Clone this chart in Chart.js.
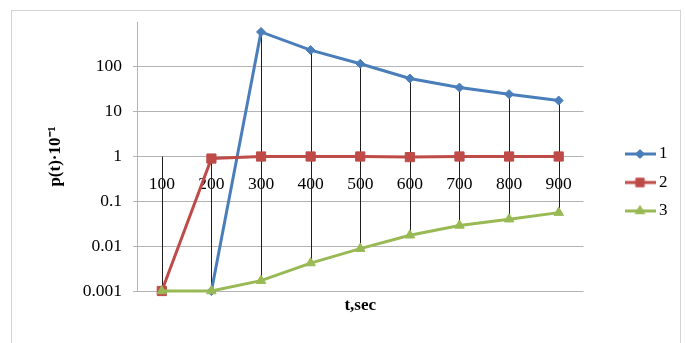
<!DOCTYPE html>
<html>
<head>
<meta charset="utf-8">
<script src="https://cdn.jsdelivr.net/npm/chart.js@4.4.0/dist/chart.umd.min.js"></script>
<style>
  html, body { margin: 0; padding: 0; background: #fff; }
  #wrap { width: 685px; height: 343px; }
</style>
</head>
<body>
<div id="wrap"><canvas id="chart" width="685" height="343"></canvas></div>
<script>
// Data (log scale, p(t)*10^-1 vs t)
const categories = ['100', '200', '300', '400', '500', '600', '700', '800', '900'];
const series1 = [null, 0.001, 600, 236, 117, 55, 34.5, 24.6, 17.7];
const series2 = [0.001, 0.9, 1, 1, 1, 0.97, 1, 1, 1];
const series3 = [0.001, 0.001, 0.0017, 0.0042, 0.0088, 0.0175, 0.029, 0.04, 0.056];
const yTicks = [0.001, 0.01, 0.1, 1, 10, 100, 1000];
const seriesNames = ['1', '2', '3'];

const FONT = "'Liberation Serif', 'Times New Roman', serif";
const BLUE = '#4A7EBB';
const RED = '#BE4B48';
const GREEN = '#98B954';
const GRID = '#b3b3b3';

// Legend icons: line with the marker in the middle
function makeLegendIcon(color, style, radius) {
    const c = document.createElement('canvas');
    c.width = 31;
    c.height = 14;
    const g = c.getContext('2d');
    g.strokeStyle = color;
    g.lineWidth = 3;
    g.beginPath();
    g.moveTo(0, 7);
    g.lineTo(31, 7);
    g.stroke();
    g.fillStyle = color;
    g.strokeStyle = color;
    g.lineWidth = 1;
    Chart.helpers.drawPoint(g, { pointStyle: style, radius: radius, rotation: 0, borderWidth: 1 }, 15.5, 7);
    return c;
}
const legendIcons = [
    makeLegendIcon(BLUE, 'rectRot', 4.5),
    makeLegendIcon(RED, 'rect', 6),
    makeLegendIcon(GREEN, 'triangle', 5.5)
];

// Light grey frame around the whole chart
const frame = {
    id: 'frame',
    beforeDraw(chart) {
        const ctx = chart.ctx;
        ctx.save();
        ctx.fillStyle = '#fff';
        ctx.fillRect(0, 0, chart.width, chart.height);
        ctx.strokeStyle = '#d4d4d4';
        ctx.lineWidth = 1;
        ctx.strokeRect(11.5, 10.5, 669, 345);
        ctx.restore();
    }
};

// Excel-style drop lines: from each point to the category axis (at 1)
const dropLines = {
    id: 'dropLines',
    beforeDatasetsDraw(chart) {
        const { ctx, scales: { x, y } } = chart;
        const axisY = y.getPixelForValue(1);
        ctx.save();
        ctx.strokeStyle = '#1e1e1e';
        ctx.lineWidth = 1;
        categories.forEach((c, i) => {
            const px = chart.data.datasets
                .map(ds => ds.data[i])
                .filter(v => v !== null && v !== undefined)
                .map(v => y.getPixelForValue(v));
            px.push(axisY);
            const xp = Math.round(x.getPixelForValue(i)) + 0.5;
            ctx.beginPath();
            ctx.moveTo(xp, Math.min(...px));
            ctx.lineTo(xp, Math.max(...px));
            ctx.stroke();
        });
        ctx.restore();
    }
};

const defaultLabels = Chart.defaults.plugins.legend.labels.generateLabels;

new Chart(document.getElementById('chart').getContext('2d'), {
    type: 'line',
    data: {
        labels: categories,
        datasets: [{
            label: seriesNames[0],
            data: series1,
            borderColor: BLUE,
            backgroundColor: BLUE,
            borderWidth: 3,
            pointStyle: 'rectRot',
            pointRadius: 4.5,
            pointBorderWidth: 1,
            clip: false,
            order: 3
        }, {
            label: seriesNames[1],
            data: series2,
            borderColor: RED,
            backgroundColor: RED,
            borderWidth: 3,
            pointStyle: 'rect',
            pointRadius: 6.5,
            pointBorderWidth: 1,
            clip: false,
            order: 2
        }, {
            label: seriesNames[2],
            data: series3,
            borderColor: GREEN,
            backgroundColor: GREEN,
            borderWidth: 3,
            pointStyle: 'triangle',
            pointRadius: 5.5,
            pointBorderWidth: 1,
            clip: false,
            order: 1
        }]
    },
    options: {
        responsive: false,
        animation: false,
        layout: { padding: { top: 22, left: 0, right: 7.5, bottom: 0 } },
        plugins: {
            tooltip: { enabled: false },
            legend: {
                position: 'right',
                labels: {
                    usePointStyle: true,
                    pointStyleWidth: 21,
                    padding: 11.5,
                    color: '#000',
                    font: { family: FONT, size: 17 },
                    sort: (a, b) => a.datasetIndex - b.datasetIndex,
                    generateLabels(chart) {
                        return defaultLabels(chart).map(item => {
                            item.pointStyle = legendIcons[item.datasetIndex];
                            return item;
                        });
                    }
                }
            }
        },
        scales: {
            x: {
                type: 'category',
                position: { y: 1 },
                offset: true,
                grid: { display: false, drawTicks: false },
                border: { display: false },
                ticks: {
                    padding: 17,
                    color: '#000',
                    maxRotation: 0,
                    autoSkip: false,
                    font: { family: FONT, size: 17.5 }
                }
            },
            x2: {
                type: 'category',
                position: 'bottom',
                grid: { display: false, drawTicks: false },
                border: { display: false },
                ticks: { display: false },
                title: {
                    display: true,
                    text: 't,sec',
                    color: '#000',
                    padding: { top: 0, bottom: 27 },
                    font: { family: FONT, size: 17, weight: 'bold' }
                },
                afterFit(scale) {
                    scale.height = 52;
                }
            },
            y: {
                type: 'logarithmic',
                position: 'left',
                min: 0.001,
                max: 1000,
                afterBuildTicks(scale) {
                    scale.ticks = yTicks.map(v => ({ value: v }));
                },
                afterFit(scale) {
                    scale.width = 137;
                },
                grid: {
                    color: c => (c.tick && c.tick.value === 1000 ? 'rgba(0,0,0,0)' : GRID),
                    tickLength: 4
                },
                border: { color: GRID },
                ticks: {
                    padding: 11,
                    color: '#000',
                    font: { family: FONT, size: 17.5 },
                    callback: v => (v === 1000 ? '' : String(v))
                },
                title: {
                    display: true,
                    text: 'p(t)·10⁻¹',
                    color: '#000',
                    padding: { top: 45, bottom: 0 },
                    font: { family: FONT, size: 17, weight: 'bold' }
                }
            },
            // empty spacer between the plot and the legend
            yr: {
                type: 'linear',
                position: 'right',
                grid: { display: false, drawTicks: false },
                border: { display: false },
                ticks: { display: false },
                afterFit(scale) {
                    scale.width = 34.5;
                }
            }
        }
    },
    plugins: [frame, dropLines]
});
</script>
</body>
</html>
